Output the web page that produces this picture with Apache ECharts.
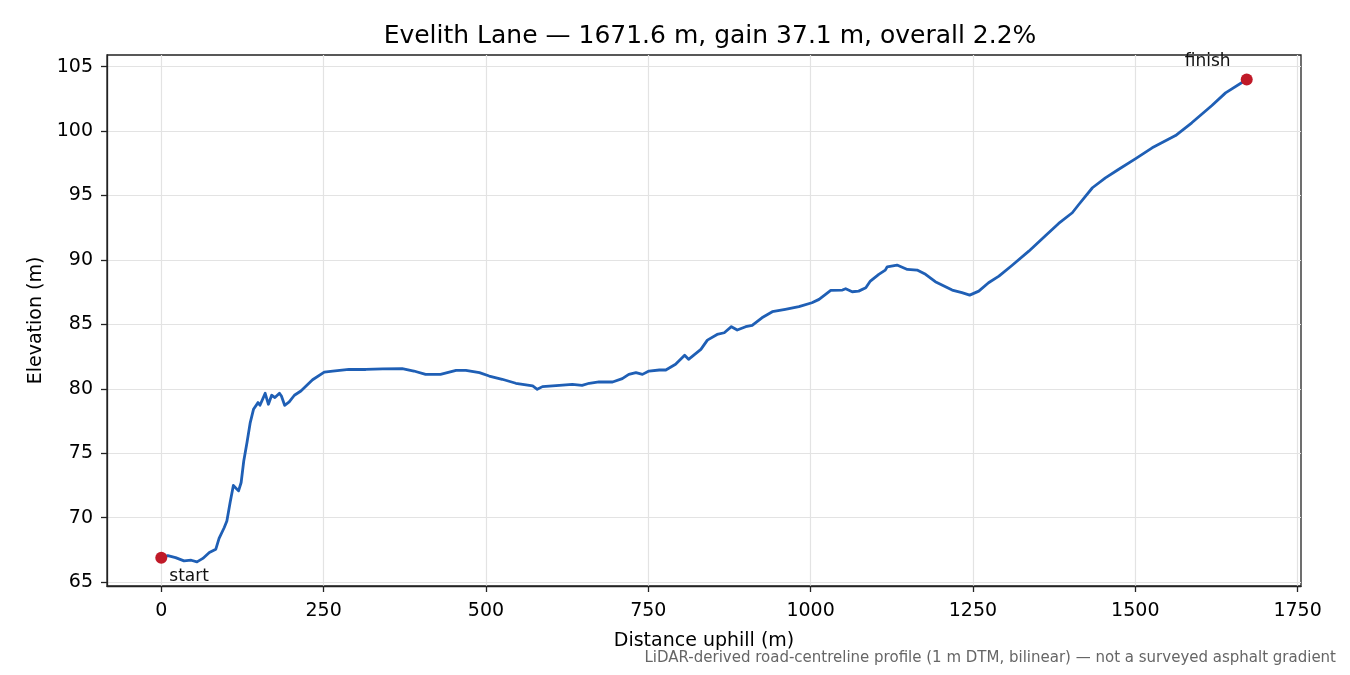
<!DOCTYPE html>
<html>
<head>
<meta charset="utf-8">
<script src="https://cdn.jsdelivr.net/npm/echarts@6/dist/echarts.min.js"></script>
<style>
  html, body { margin: 0; padding: 0; background: #fff; }
  #chart { width: 1350px; height: 675px; }
</style>
</head>
<body>
<div id="chart"></div>
<script>
// distance along the lane (m) and elevation (m)
var distance = [0, 10, 22, 35, 46, 55, 64, 74, 84, 89, 97, 101, 106, 111, 114, 119, 123, 127, 132, 137,
  142, 149, 152, 160, 165, 170, 175, 182, 185, 190, 197, 205, 215, 233, 251, 264, 289, 315, 341, 371,
  389, 407, 430, 454, 469, 490, 505, 525, 546, 572, 579, 587, 613, 633, 648, 659, 674, 695, 710, 720,
  731, 741, 751, 767, 777, 792, 806, 812, 831, 841, 856, 867, 878, 887, 900, 910, 925, 941, 961, 982,
  1002, 1013, 1031, 1049, 1054, 1064, 1074, 1085, 1092, 1105, 1115, 1118, 1133, 1149, 1164, 1177, 1192, 1218, 1233, 1245,
  1259, 1274, 1290, 1310, 1336, 1362, 1382, 1403, 1413, 1434, 1454, 1474, 1500, 1526, 1562, 1587, 1618, 1639, 1671.6];
var elevation = [66.9, 67.05, 66.9, 66.65, 66.7, 66.57, 66.84, 67.3, 67.56, 68.39, 69.24, 69.75, 71.18, 72.5, 72.6, 72.08, 72.73, 74.4, 75.83, 77.38,
  78.41, 78.93, 78.72, 79.65, 78.8, 79.5, 79.32, 79.65, 79.44, 78.72, 78.98, 79.5, 79.83, 80.7, 81.3, 81.38, 81.5, 81.5, 81.55, 81.57,
  81.38, 81.12, 81.12, 81.43, 81.43, 81.25, 80.99, 80.74, 80.43, 80.22, 79.96, 80.17, 80.27, 80.35, 80.27, 80.43, 80.53, 80.53, 80.79, 81.12,
  81.25, 81.12, 81.38, 81.46, 81.46, 81.9, 82.6, 82.29, 83.06, 83.78, 84.22, 84.35, 84.82, 84.56, 84.82, 84.92, 85.51, 85.98, 86.16, 86.37,
  86.68, 86.94, 87.64, 87.66, 87.77, 87.53, 87.58, 87.84, 88.36, 88.88, 89.21, 89.47, 89.6, 89.26, 89.21, 88.88, 88.31, 87.66, 87.46, 87.27,
  87.58, 88.23, 88.74, 89.57, 90.68, 91.9, 92.83, 93.66, 94.3, 95.6, 96.37, 97.02, 97.84, 98.7, 99.65, 100.64, 101.98, 102.96, 104.0];
var endNames = ['start', 'finish'];
var endPoints = [[0, 66.9], [1671.6, 104.0]];
var xTicks = [0, 250, 500, 750, 1000, 1250, 1500, 1750];
var yTicks = [65, 70, 75, 80, 85, 90, 95, 100, 105];

var profile = distance.map(function (d, i) { return [d, elevation[i]]; });
var font = 'DejaVu Sans';
var plain = function (v) { return String(v); };

var myChart = echarts.init(document.getElementById('chart'));
myChart.setOption({
  animation: false,
  backgroundColor: '#fff',
  title: {
    text: 'Evelith Lane — 1671.6 m, gain 37.1 m, overall 2.2%',
    left: 705,
    textAlign: 'center',
    top: 19,
    textStyle: { fontFamily: font, fontSize: 25, fontWeight: 'normal', color: '#000' }
  },
  grid: {
    left: 107, right: 49, top: 55, bottom: 89,
    show: true, borderColor: '#222', borderWidth: 1.3, backgroundColor: 'transparent'
  },
  xAxis: {
    type: 'value',
    min: -83.6, max: 1755.2,
    name: 'Distance uphill (m)',
    nameLocation: 'middle',
    nameGap: 46,
    nameTextStyle: { fontFamily: font, fontSize: 19, color: '#000' },
    axisLine: { show: true, onZero: false, lineStyle: { color: '#222', width: 1.3 } },
    axisTick: { show: true, length: 6, lineStyle: { color: '#222', width: 1.3 }, customValues: xTicks },
    axisLabel: { fontFamily: font, fontSize: 19, color: '#000', margin: 16, customValues: xTicks, formatter: plain },
    splitLine: { show: true, lineStyle: { color: '#e3e3e3', width: 1.2 } }
  },
  yAxis: {
    type: 'value',
    min: 64.7, max: 105.9,
    name: 'Elevation (m)',
    nameLocation: 'middle',
    nameGap: 61,
    nameTextStyle: { fontFamily: font, fontSize: 19, color: '#000' },
    axisLine: { show: true, onZero: false, lineStyle: { color: '#222', width: 1.3 } },
    axisTick: { show: true, length: 6, lineStyle: { color: '#222', width: 1.3 }, customValues: yTicks },
    axisLabel: { fontFamily: font, fontSize: 19, color: '#000', margin: 14, customValues: yTicks, formatter: plain },
    splitLine: { show: true, lineStyle: { color: '#e3e3e3', width: 1.2 } }
  },
  series: [{
    type: 'line',
    data: profile,
    showSymbol: false,
    smooth: false,
    lineStyle: { color: '#1f5fb5', width: 2.8, join: 'round' },
    z: 3
  }, {
    type: 'scatter',
    data: endPoints.map(function (p, i) {
      return {
        value: p,
        label: {
          show: true,
          formatter: endNames[i],
          position: 'inside',
          align: i === 0 ? 'left' : 'center',
          verticalAlign: 'middle',
          offset: i === 0 ? [8, 19] : [-39, -18],
          fontFamily: font, fontSize: 17, color: '#111'
        }
      };
    }),
    symbolSize: 12,
    itemStyle: { color: '#c01a28', opacity: 1 },
    z: 5
  }],
  graphic: [{
    type: 'text',
    right: 14,
    top: 651,
    style: {
      text: 'LiDAR-derived road-centreline profile (1 m DTM, bilinear) — not a surveyed asphalt gradient',
      fontFamily: font, fontSize: 15, fill: '#666'
    }
  }]
});
window.addEventListener('resize', function () {
  myChart.resize();
});
</script>
</body>
</html>
